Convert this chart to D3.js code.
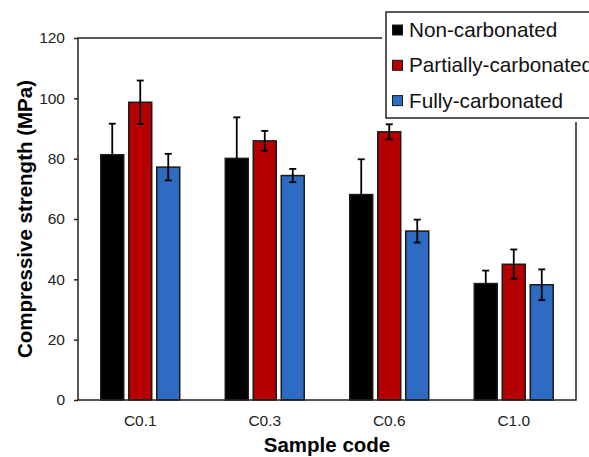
<!DOCTYPE html>
<html>
<head>
  <meta charset="utf-8">
  <script src="https://d3js.org/d3.v7.min.js"></script>
  <style>
    body { margin: 0; background: #fff; }
    text { font-family: "Liberation Sans", Arial, sans-serif; }
  </style>
</head>
<body>
  <script type="text/javascript">
    "use strict";

    // data
    var samples = ["C0.1", "C0.3", "C0.6", "C1.0"];
    var series = ["Non-carbonated", "Partially-carbonated", "Fully-carbonated"];
    var colors = ["#000000", "#b40000", "#2e6bc2"];
    var nonCarb = [81.3, 80.1, 68.1, 38.6];
    var nonCarbErr = [10.3, 13.6, 11.7, 4.3];
    var partCarb = [98.7, 85.9, 88.9, 45.0];
    var partCarbErr = [7.2, 3.3, 2.5, 4.9];
    var fullCarb = [77.2, 74.4, 56.0, 38.2];
    var fullCarbErr = [4.4, 2.2, 3.8, 5.1];
    var yTicks = [0, 20, 40, 60, 80, 100, 120];

    var values = [nonCarb, partCarb, fullCarb];
    var errors = [nonCarbErr, partCarbErr, fullCarbErr];

    var W = 589, H = 457;
    var m = {left: 78, right: 13, top: 38, bottom: 57};

    var svg = d3.select("body").append("svg")
        .attr("width", W)
        .attr("height", H);

    var x = d3.scaleBand().domain(samples).range([m.left, W - m.right]);
    var xi = d3.scaleBand().domain(series).range([-42, 42])
        .paddingInner(0.18).paddingOuter(0.09);
    var y = d3.scaleLinear().domain([0, 120]).range([H - m.bottom, m.top]);

    var rows = [];
    samples.forEach(function(s, i) {
      series.forEach(function(k, j) {
        rows.push({sample: s, key: k, v: values[j][i], e: errors[j][i], c: colors[j]});
      });
    });

    // bars
    svg.append("g").selectAll("rect")
      .data(rows).enter().append("rect")
        .attr("x", function(d) { return x(d.sample) + x.bandwidth() / 2 + xi(d.key); })
        .attr("y", function(d) { return y(d.v); })
        .attr("width", xi.bandwidth())
        .attr("height", function(d) { return y(0) - y(d.v); })
        .attr("fill", function(d) { return d.c; })
        .attr("stroke", "#1a1a1a")
        .attr("stroke-width", 1.5);

    // error bars
    var eb = svg.append("g").attr("stroke", "#000").attr("stroke-width", 1.8);
    rows.forEach(function(d) {
      var cx = x(d.sample) + x.bandwidth() / 2 + xi(d.key) + xi.bandwidth() / 2;
      eb.append("line").attr("x1", cx).attr("x2", cx)
        .attr("y1", y(d.v - d.e)).attr("y2", y(d.v + d.e));
      [d.v - d.e, d.v + d.e].forEach(function(t) {
        eb.append("line").attr("x1", cx - 3.5).attr("x2", cx + 3.5)
          .attr("y1", y(t)).attr("y2", y(t));
      });
    });

    // axes
    var yAxis = svg.append("g")
        .attr("transform", "translate(" + m.left + ",0)")
        .call(d3.axisLeft(y).tickValues(yTicks).tickSize(4).tickPadding(9));
    yAxis.select(".domain").remove();
    yAxis.selectAll("text").attr("font-size", 15.5).attr("fill", "#222")
        .style("font-family", "'Liberation Sans', Arial, sans-serif");
    yAxis.selectAll("line").attr("stroke", "#222").attr("stroke-width", 1.5);

    var xAxis = svg.append("g")
        .attr("transform", "translate(0," + y(0) + ")")
        .call(d3.axisBottom(x).tickSize(0).tickPadding(14.5));
    xAxis.select(".domain").remove();
    xAxis.selectAll("text").attr("font-size", 15.5).attr("fill", "#222")
        .style("font-family", "'Liberation Sans', Arial, sans-serif");

    // plot frame
    svg.append("rect")
        .attr("x", m.left).attr("y", m.top)
        .attr("width", W - m.right - m.left)
        .attr("height", y(0) - m.top)
        .attr("fill", "none")
        .attr("stroke", "#222")
        .attr("stroke-width", 1.5);

    // axis titles
    svg.append("text")
        .attr("x", (m.left + W - m.right) / 2)
        .attr("y", 452)
        .attr("text-anchor", "middle")
        .attr("font-size", 20.5)
        .attr("font-weight", "bold")
        .text("Sample code");

    svg.append("text")
        .attr("transform", "translate(31.5," + (m.top + y(0)) / 2 + ") rotate(-90)")
        .attr("text-anchor", "middle")
        .attr("font-size", 20.5)
        .attr("font-weight", "bold")
        .text("Compressive strength (MPa)");

    // legend
    var lg = svg.append("g").attr("transform", "translate(386,12)");
    lg.append("rect")
        .attr("x", -4).attr("y", -2).attr("width", 220).attr("height", 112)
        .attr("fill", "#fff");
    lg.append("rect")
        .attr("x", 0).attr("y", 0).attr("width", 215).attr("height", 106)
        .attr("fill", "#fff")
        .attr("stroke", "#222")
        .attr("stroke-width", 1.5);
    series.forEach(function(k, j) {
      var row = lg.append("g").attr("transform", "translate(0," + (25 + j * 35.3) + ")");
      row.append("rect")
          .attr("x", 6.5).attr("y", -12).attr("width", 10).attr("height", 10)
          .attr("fill", colors[j]).attr("stroke", "#1a1a1a").attr("stroke-width", 1);
      row.append("text")
          .attr("x", 23).attr("y", 0)
          .attr("font-size", 20.7)
          .attr("fill", "#111")
          .text(k);
    });
  </script>
</body>
</html>
